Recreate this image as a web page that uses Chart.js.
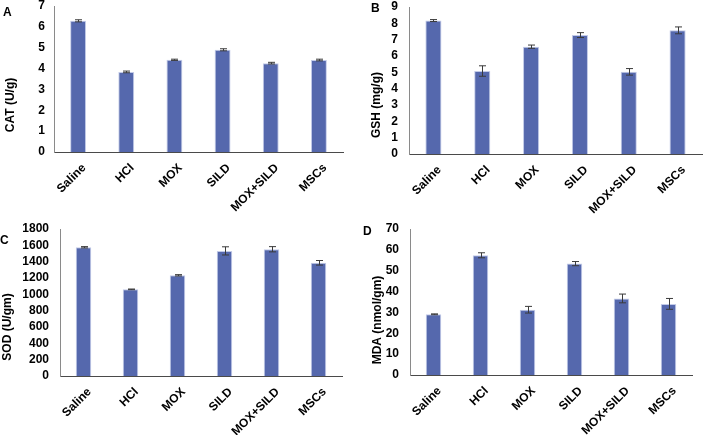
<!DOCTYPE html>
<html>
<head>
<meta charset="utf-8">
<script src="https://cdn.jsdelivr.net/npm/chart.js@4"></script>
<style>
    html, body { margin: 0; padding: 0; background: #fff; }
    #wrap { position: relative; width: 703px; height: 435px; overflow: hidden; }
    .panel { position: absolute; }
    .letter { position: absolute; font: bold 12px "Liberation Sans", Arial, sans-serif; color: #000; }
</style>
</head>
<body>
<div id="wrap">
    <div class="panel" style="left:0;top:0;width:350px;height:217px"><canvas id="chartA"></canvas></div>
    <div class="panel" style="left:352px;top:0;width:351px;height:217px"><canvas id="chartB"></canvas></div>
    <div class="panel" style="left:0;top:217px;width:350px;height:218px"><canvas id="chartC"></canvas></div>
    <div class="panel" style="left:352px;top:217px;width:351px;height:218px"><canvas id="chartD"></canvas></div>
    <div class="letter" style="left:3px;top:5px">A</div>
    <div class="letter" style="left:371px;top:1px">B</div>
    <div class="letter" style="left:0px;top:233px">C</div>
    <div class="letter" style="left:363px;top:224px">D</div>
</div>
<script>
// ========== DATA ==========
const categories = ['Saline', 'HCl', 'MOX', 'SILD', 'MOX+SILD', 'MSCs'];

const catValues = [6.29, 3.84, 4.42, 4.90, 4.26, 4.41];
const catErrors = [0.05, 0.04, 0.03, 0.05, 0.04, 0.04];

const gshValues = [8.17, 5.08, 6.57, 7.28, 5.03, 7.57];
const gshErrors = [0.06, 0.32, 0.10, 0.15, 0.20, 0.21];

const sodValues = [1576, 1061, 1233, 1532, 1552, 1386];
const sodErrors = [8, 4, 8, 50, 32, 28];

const mdaValues = [29.1, 57.4, 31.3, 53.4, 36.7, 34.1];
const mdaErrors = [0.2, 1.2, 1.6, 1.0, 2.1, 2.6];

const BAR_FILL = '#5568ad';
const BAR_EDGE = '#c3cbe8';
const FONT = '"Liberation Sans", Arial, sans-serif';

// ========== ERROR BAR PLUGIN ==========
const errorBarPlugin = {
    id: 'errorBars',
    afterDatasetsDraw(chart) {
        const errs = chart.options.plugins.errorBars.errors;
        const meta = chart.getDatasetMeta(0);
        const yScale = chart.scales.y;
        const values = chart.data.datasets[0].data;
        const ctx = chart.ctx;
        ctx.save();
        ctx.strokeStyle = '#3a3a3a';
        ctx.lineWidth = 1;
        meta.data.forEach((bar, i) => {
            const x = Math.round(bar.x) + 0.5;
            const top = yScale.getPixelForValue(values[i] + errs[i]);
            const bottom = yScale.getPixelForValue(values[i] - errs[i]);
            ctx.beginPath();
            ctx.moveTo(x, top);
            ctx.lineTo(x, bottom);
            ctx.moveTo(x - 3.5, top);
            ctx.lineTo(x + 3.5, top);
            ctx.moveTo(x - 3.5, bottom);
            ctx.lineTo(x + 3.5, bottom);
            ctx.stroke();
        });
        ctx.restore();
    }
};

// ========== AXIS TEXT PLUGIN (y title + rotated category labels) ==========
const axisTextPlugin = {
    id: 'axisText',
    afterDraw(chart) {
        const opt = chart.options.plugins.axisText;
        const ctx = chart.ctx;
        const xScale = chart.scales.x;
        ctx.save();
        ctx.font = 'bold 12px ' + FONT;
        ctx.fillStyle = '#000';

        // y axis title
        ctx.save();
        ctx.translate(opt.titleX, opt.titleY);
        ctx.rotate(-Math.PI / 2);
        ctx.textAlign = 'center';
        ctx.textBaseline = 'middle';
        ctx.fillText(opt.title, 0, 0);
        ctx.restore();

        // category labels at 45 degrees
        ctx.textAlign = 'right';
        ctx.textBaseline = 'middle';
        chart.data.labels.forEach((label, i) => {
            const x = xScale.getPixelForTick(i);
            ctx.save();
            ctx.translate(x + 6, xScale.top + 14);
            ctx.rotate(-Math.PI / 4);
            ctx.fillText(label, 0, 0);
            ctx.restore();
        });
        ctx.restore();
    }
};

// ========== BUILD PANEL ==========
function makePanel(id, values, errors, max, step, title, lay) {
    const ctx = document.getElementById(id).getContext('2d');
    return new Chart(ctx, {
        type: 'bar',
        data: {
            labels: categories,
            datasets: [{
                data: values,
                backgroundColor: BAR_FILL,
                borderColor: BAR_EDGE,
                borderWidth: 1,
                barPercentage: 0.33,
                categoryPercentage: 1
            }]
        },
        plugins: [errorBarPlugin, axisTextPlugin],
        options: {
            responsive: true,
            maintainAspectRatio: false,
            animation: false,
            layout: { padding: { top: lay.top, right: lay.right, left: 0, bottom: 0 } },
            plugins: {
                legend: { display: false },
                tooltip: { enabled: false },
                errorBars: { errors: errors },
                axisText: { title: title, titleX: lay.titleX, titleY: lay.titleY }
            },
            scales: {
                x: {
                    grid: { display: false, drawTicks: false },
                    border: { display: true, color: '#4a4a4a', width: 1 },
                    ticks: { display: false },
                    afterFit(scale) {
                        scale.height = lay.xHeight;
                        scale.paddingLeft = 0;
                        scale.paddingRight = 0;
                    }
                },
                y: {
                    min: 0,
                    max: max,
                    grid: { display: false, drawTicks: false },
                    border: { display: true, color: '#8a8a8a', width: 1 },
                    ticks: {
                        color: '#000',
                        stepSize: step,
                        autoSkip: false,
                        padding: lay.tickPad,
                        font: { family: FONT, size: 12, weight: 'bold' },
                        callback: v => String(v)
                    },
                    afterFit(scale) {
                        scale.width = lay.yWidth;
                        scale.paddingTop = 0;
                        scale.paddingBottom = 0;
                    }
                }
            }
        }
    });
}

makePanel('chartA', catValues, catErrors, 7, 1, 'CAT (U/g)',
    { top: 6, right: 7, xHeight: 65, yWidth: 54, tickPad: 9, titleX: 11, titleY: 105 });
makePanel('chartB', gshValues, gshErrors, 9, 1, 'GSH (mg/g)',
    { top: 7, right: 1, xHeight: 63, yWidth: 57, tickPad: 11, titleX: 25, titleY: 105 });
makePanel('chartC', sodValues, sodErrors, 1800, 200, 'SOD (U/gm)',
    { top: 12, right: 8, xHeight: 59, yWidth: 60, tickPad: 11, titleX: 8, titleY: 110 });
makePanel('chartD', mdaValues, mdaErrors, 70, 10, 'MDA (nmol/gm)',
    { top: 12, right: 11, xHeight: 60, yWidth: 58, tickPad: 11, titleX: 26, titleY: 103 });
</script>
</body>
</html>
